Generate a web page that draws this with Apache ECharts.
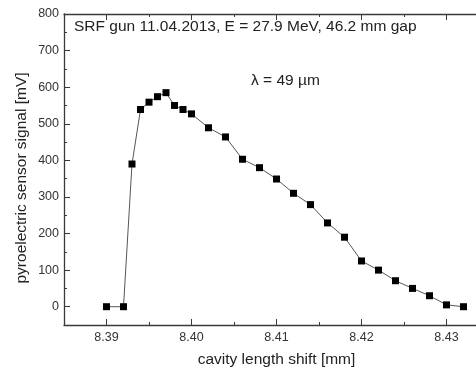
<!DOCTYPE html>
<html><head><meta charset="utf-8">
<script src="https://cdn.jsdelivr.net/npm/echarts@6/dist/echarts.min.js"></script>
<style>html,body{margin:0;padding:0;background:#fff}#c{width:476px;height:369px}</style>
</head><body><div id="c"></div>
<script>
const xValues = [8.390, 8.392, 8.393, 8.394, 8.395, 8.396, 8.397, 8.398, 8.399, 8.400, 8.402, 8.404, 8.406, 8.408, 8.410, 8.412, 8.414, 8.416, 8.418, 8.420, 8.422, 8.424, 8.426, 8.428, 8.430, 8.432];
const yValues = [0, 0, 390, 539, 559, 574, 585, 550, 539, 527, 489, 464, 403, 380, 349, 310, 279, 229, 190, 125, 100, 71, 50, 30, 5, 0];
const xMajorTicks = [8.39, 8.40, 8.41, 8.42, 8.43];
const xMinorTicks = [8.385, 8.395, 8.405, 8.415, 8.425, 8.435];
const yMajorTicks = [0, 100, 200, 300, 400, 500, 600, 700, 800];
const yMinorTicks = [-50, 50, 150, 250, 350, 450, 550, 650, 750];
const titleText = 'SRF gun 11.04.2013, E = 27.9 MeV, 46.2 mm gap';
const noteText = 'λ = 49 µm';
const xName = 'cavity length shift [mm]';
const yName = 'pyroelectric sensor signal [mV]';

const F = 'Liberation Sans, Arial, sans-serif';
const axC = '#3a3a3a';
const chart = echarts.init(document.getElementById('c'));
const xBase = {type:'value', min:8.385, max:8.435};
const yBase = {type:'value', min:-50, max:800};
const noLine = {show:false, onZero:false};
chart.setOption({
  animation:false,
  grid:{left:64, top:14, right:-13, bottom:44, containLabel:false, outerBoundsMode:'none'},
  xAxis:[
    Object.assign({}, xBase, {position:'bottom', name:xName, nameLocation:'middle', nameGap:27,
      nameTextStyle:{fontFamily:F, fontSize:15.5, color:'#222'},
      axisLine:{show:true, onZero:false, lineStyle:{color:axC, width:1.3}},
      axisTick:{show:true, inside:true, length:6, customValues:xMajorTicks, lineStyle:{color:axC}},
      axisLabel:{customValues:xMajorTicks, fontFamily:F, fontSize:12.5, color:'#333', margin:6, formatter:v=>v.toFixed(2)},
      splitLine:{show:false}}),
    Object.assign({}, xBase, {position:'bottom',
      axisLine:noLine, axisLabel:{show:false}, splitLine:{show:false},
      axisTick:{show:true, inside:true, length:3, customValues:xMinorTicks, lineStyle:{color:axC}}}),
    Object.assign({}, xBase, {position:'top',
      axisLine:{show:true, onZero:false, lineStyle:{color:axC, width:1.3}}, axisLabel:{show:false}, splitLine:{show:false},
      axisTick:{show:true, inside:true, length:6, customValues:xMajorTicks, lineStyle:{color:axC}}}),
    Object.assign({}, xBase, {position:'top',
      axisLine:noLine, axisLabel:{show:false}, splitLine:{show:false},
      axisTick:{show:true, inside:true, length:3, customValues:xMinorTicks, lineStyle:{color:axC}}})
  ],
  yAxis:[
    Object.assign({}, yBase, {position:'left',
      axisLine:{show:true, onZero:false, lineStyle:{color:axC, width:1.3}},
      axisTick:{show:true, inside:true, length:6, customValues:yMajorTicks, lineStyle:{color:axC}},
      axisLabel:{customValues:yMajorTicks, fontFamily:F, fontSize:12.5, color:'#333', margin:5},
      splitLine:{show:false}}),
    Object.assign({}, yBase, {position:'left', offset:0,
      axisLine:noLine, axisLabel:{show:false}, splitLine:{show:false},
      axisTick:{show:true, inside:true, length:3, customValues:yMinorTicks, lineStyle:{color:axC}}})
  ],
  graphic:[
    {type:'text', x:74, y:27, style:{text:titleText, font:'15.5px '+F, fill:'#222', verticalAlign:'middle'}},
    {type:'text', x:251, y:81, style:{text:noteText, font:'15.5px '+F, fill:'#222', verticalAlign:'middle'}},
    {type:'text', x:22, y:178, rotation:Math.PI/2, style:{text:yName, font:'15.5px '+F, fill:'#222', align:'center', verticalAlign:'middle'}}
  ],
  series:[{
    type:'line', xAxisIndex:0, yAxisIndex:0,
    data:xValues.map((x,i)=>[x, yValues[i]]),
    symbol:'rect', symbolSize:7,
    itemStyle:{color:'#000'},
    lineStyle:{color:'#555', width:1}
  }]
});
</script></body></html>
